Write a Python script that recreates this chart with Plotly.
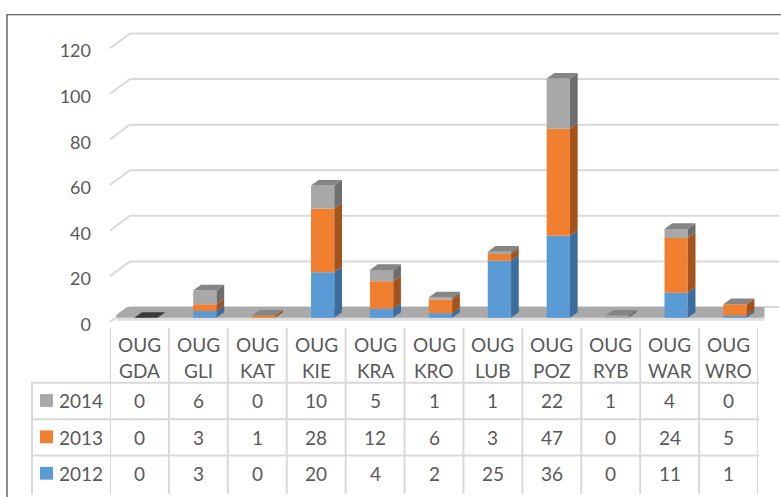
import numpy as np
import plotly.graph_objects as go

# ---------------- data ----------------
codes = ["GDA", "GLI", "KAT", "KIE", "KRA", "KRO", "LUB", "POZ", "RYB", "WAR", "WRO"]
categories = ["OUG<br>" + c for c in codes]
v2012 = [0, 3, 0, 20, 4, 2, 25, 36, 0, 11, 1]
v2013 = [0, 3, 1, 28, 12, 6, 3, 47, 0, 24, 5]
v2014 = [0, 6, 0, 10, 5, 1, 1, 22, 1, 4, 0]
series_names = ["2012", "2013", "2014"]
series_vals = [v2012, v2013, v2014]
y_ticks = [0, 20, 40, 60, 80, 100, 120]

front_col = ["#5b9bd5", "#f07f30", "#a8a8a8"]
side_col = ["#3e6d9b", "#a4531c", "#6e6e6e"]
top_col = "#858585"
top_col_empty = "#3a3a3a"
txt_col = "#595959"
line_col = "#d9d9d9"
FONT = "Lato"

# ---------------- geometry helpers (reference pixel coords) ----------------
W, H = 781, 497
S = 46.33 / 20.0             # pixels per unit
n = len(codes)


def fx(p):
    return p / W


def fy(p):
    return 1 - p / H


PLOT_TOP, PLOT_BOT = 20, 332
Y0_BAR, Y0_LAB, Y0_GRID = 323, 330, 312


def rng(zero_px):
    return [-(PLOT_BOT - zero_px) / S, (zero_px - PLOT_TOP) / S]


X_L, X_R = 116.5, 764.5
PITCH = (X_R - X_L) / n
BAR_W = 23.3 / PITCH
DXU = 7.7 / PITCH
DYU = 5.7 / S

T_L, T_R = 110, 758          # table category columns
LEG_L = 32
ROW_Y = [333, 389, 426, 463, 500]


def px2x(p):
    return (p - X_L) / PITCH - 0.5


def px2y(p):
    return (Y0_BAR - p) / S


xs = np.arange(n)
fig = go.Figure()

# front faces + side faces
base = np.zeros(n)
for k, (nm, vals) in enumerate(zip(series_names, series_vals)):
    vals = np.array(vals, dtype=float)
    fig.add_trace(go.Bar(x=xs, y=vals, base=base, width=BAR_W, name=nm,
                         marker=dict(color=front_col[k], line=dict(width=0)),
                         showlegend=False, hoverinfo="skip"))
    sx, sy = [], []
    for i in range(n):
        if vals[i] <= 0:
            continue
        xr = xs[i] + BAR_W / 2
        y0, y1 = base[i], base[i] + vals[i]
        sx += [xr, xr + DXU, xr + DXU, xr, xr, None]
        sy += [y0, y0 + DYU, y1 + DYU, y1, y0, None]
    if sx:
        fig.add_trace(go.Scatter(x=sx, y=sy, mode="lines", fill="toself",
                                 fillcolor=side_col[k], line=dict(width=0),
                                 showlegend=False, hoverinfo="skip"))
    base = base + vals

# top faces
for i in range(n):
    T = base[i]
    xl, xr = xs[i] - BAR_W / 2, xs[i] + BAR_W / 2
    fig.add_trace(go.Scatter(
        x=[xl, xl + DXU, xr + DXU, xr, xl],
        y=[T, T + DYU, T + DYU, T, T],
        mode="lines", fill="toself",
        fillcolor=top_col if T > 0 else top_col_empty,
        line=dict(width=0), showlegend=False, hoverinfo="skip"))

# dummy traces for helper axes
fig.add_trace(go.Scatter(x=[None], y=[None], yaxis="y2", showlegend=False, hoverinfo="skip"))
fig.add_trace(go.Scatter(x=[None], y=[None], yaxis="y3", showlegend=False, hoverinfo="skip"))
fig.add_trace(go.Scatter(x=[None], y=[None], xaxis="x2", yaxis="y4", showlegend=False, hoverinfo="skip"))

shapes = []
annotations = []
# gridlines (back wall) with slanted side-wall part
for v in y_ticks:
    shapes.append(dict(type="line", xref="paper", yref="y3", x0=fx(130), x1=fx(779),
                       y0=v, y1=v, line=dict(color=line_col, width=2), layer="below"))
    shapes.append(dict(type="line", xref="paper", yref="y3", x0=fx(110), x1=fx(130),
                       y0=v - 15 / S, y1=v, line=dict(color=line_col, width=2), layer="below"))

# floor
fl = [(112, Y0_BAR), (763, Y0_BAR), (778, Y0_GRID), (127, Y0_GRID)]
strip = [(112, Y0_BAR), (763, Y0_BAR), (778, Y0_GRID), (778, Y0_GRID + 3),
         (763, Y0_BAR + 3), (112, Y0_BAR + 3)]


def path(pts):
    return "M " + " L ".join(f"{px2x(a):.4f},{px2y(b):.4f}" for a, b in pts) + " Z"


shapes.append(dict(type="path", xref="x", yref="y", path=path(strip),
                   fillcolor="#dedede", line=dict(width=0), layer="below"))
shapes.append(dict(type="path", xref="x", yref="y", path=path(fl),
                   fillcolor="#a9a9a9", line=dict(width=0), layer="below"))

# chart border
shapes.append(dict(type="rect", xref="paper", yref="paper", x0=fx(7), x1=1.05,
                   y0=-0.05, y1=fy(15), line=dict(color="#3f3f3f", width=1.2)))

# ---------------- data table (x2 axis = table columns) ----------------
for j in range(n + 1):
    shapes.append(dict(type="line", xref="x2", yref="paper", x0=j - 0.5, x1=j - 0.5,
                       y0=fy(ROW_Y[0]), y1=fy(H + 5), line=dict(color=line_col, width=2)))
shapes.append(dict(type="line", xref="paper", yref="paper", x0=fx(LEG_L), x1=fx(LEG_L),
                   y0=fy(ROW_Y[1]), y1=fy(H + 5), line=dict(color=line_col, width=2)))
for r in ROW_Y[1:4]:
    shapes.append(dict(type="line", xref="paper", yref="paper", x0=fx(LEG_L - 1), x1=fx(T_R + 1),
                       y0=fy(r), y1=fy(r), line=dict(color=line_col, width=2)))

# header (two lines per category)
for i, c in enumerate(categories):
    for li, part in enumerate(c.split("<br>")):
        annotations.append(dict(x=i, y=fy(350 + 27 * li), xref="x2", yref="paper", text=part,
                                showarrow=False, xanchor="center", yanchor="middle",
                                font=dict(family=FONT, size=19, color=txt_col)))

rows = [("2014", v2014, front_col[2]), ("2013", v2013, front_col[1]), ("2012", v2012, front_col[0])]
for r, (nm, vals, col) in enumerate(rows):
    yc = (ROW_Y[r + 1] + ROW_Y[r + 2]) / 2
    shapes.append(dict(type="rect", xref="paper", yref="paper", x0=fx(40), x1=fx(53),
                       y0=fy(yc + 6), y1=fy(yc - 7), fillcolor=col, line=dict(width=0)))
    annotations.append(dict(x=fx(57), y=fy(yc), xref="paper", yref="paper", text=nm,
                            showarrow=False, xanchor="left", yanchor="middle",
                            font=dict(family=FONT, size=19, color=txt_col)))
    for i, v in enumerate(vals):
        annotations.append(dict(x=i, y=fy(yc), xref="x2", yref="paper", text=str(v),
                                showarrow=False, xanchor="center", yanchor="middle",
                                font=dict(family=FONT, size=19, color=txt_col)))

fig.update_layout(
    width=W, height=H, margin=dict(l=0, r=0, t=0, b=0, pad=0),
    paper_bgcolor="white", plot_bgcolor="rgba(0,0,0,0)",
    barmode="overlay", showlegend=False, shapes=shapes, annotations=annotations,
    font=dict(family=FONT, color=txt_col),
    xaxis=dict(domain=[fx(X_L), fx(X_R)], range=[-0.5, n - 0.5], visible=False, fixedrange=True),
    yaxis=dict(domain=[fy(PLOT_BOT), fy(PLOT_TOP)], range=rng(Y0_BAR), visible=False, fixedrange=True),
    yaxis2=dict(overlaying="y", anchor="free", position=fx(91), range=rng(Y0_LAB),
                tickvals=y_ticks, showgrid=False, zeroline=False, showline=False, ticks="",
                tickfont=dict(family=FONT, size=18, color=txt_col), fixedrange=True),
    yaxis3=dict(overlaying="y", range=rng(Y0_GRID), visible=False, fixedrange=True),
    xaxis2=dict(domain=[fx(T_L), fx(T_R)], range=[-0.5, n - 0.5], visible=False,
                anchor="y4", fixedrange=True),
    yaxis4=dict(domain=[0, fy(ROW_Y[0])], range=[0, 1], visible=False, anchor="x2", fixedrange=True),
)

fig.write_html("out.html", config={"displayModeBar": False},
               post_script="document.body.style.margin='0';document.body.style.padding='0';"
                           "document.body.style.overflow='hidden';")
